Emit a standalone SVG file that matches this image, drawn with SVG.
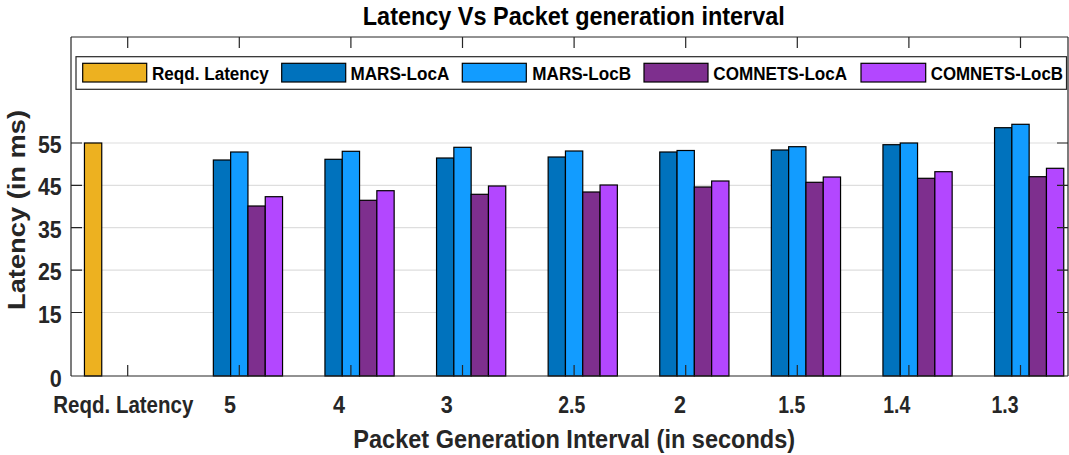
<svg xmlns="http://www.w3.org/2000/svg" width="1069" height="455" viewBox="0 0 1069 455">
<style>
text{font-family:"Liberation Sans",Arial,sans-serif;font-weight:bold;fill:#262626}
.grid{stroke:#dedede;stroke-width:1.2}
.ax{stroke:#262626;stroke-width:1.2;fill:none}
.bar{stroke:#000;stroke-width:1.2}
.rq{fill:#EDB120}.ma{fill:#0072BD}.mb{fill:#129CFF}.ca{fill:#7E2F8E}.cb{fill:#B347FF}
.yt{font-size:23px;text-anchor:end}
.xt{font-size:24px;text-anchor:middle}
.lg{font-size:19px;fill:#000}
</style>
<rect width="1069" height="455" fill="#fff"/>
<g id="grid">
<line class="grid" x1="71" y1="143" x2="1068" y2="143"/>
<line class="grid" x1="71" y1="185.4" x2="1068" y2="185.4"/>
<line class="grid" x1="71" y1="227.7" x2="1068" y2="227.7"/>
<line class="grid" x1="71" y1="270.1" x2="1068" y2="270.1"/>
<line class="grid" x1="71" y1="312.5" x2="1068" y2="312.5"/>
</g>
<g id="bars">
<rect class="bar rq" x="84.45" y="143" width="17.3" height="233"/>
<g id="g5">
<rect class="bar ma" x="213.35" y="160" width="17.3" height="216"/>
<rect class="bar mb" x="230.65" y="152" width="17.3" height="224"/>
<rect class="bar ca" x="247.95" y="206" width="17.3" height="170"/>
<rect class="bar cb" x="265.25" y="196.7" width="17.3" height="179.3"/>
</g>
<g id="g4">
<rect class="bar ma" x="324.95" y="159.3" width="17.3" height="216.7"/>
<rect class="bar mb" x="342.25" y="151.3" width="17.3" height="224.7"/>
<rect class="bar ca" x="359.55" y="200.3" width="17.3" height="175.7"/>
<rect class="bar cb" x="376.85" y="190.7" width="17.3" height="185.3"/>
</g>
<g id="g3">
<rect class="bar ma" x="436.55" y="158" width="17.3" height="218"/>
<rect class="bar mb" x="453.85" y="147.3" width="17.3" height="228.7"/>
<rect class="bar ca" x="471.15" y="194.3" width="17.3" height="181.7"/>
<rect class="bar cb" x="488.45" y="186" width="17.3" height="190"/>
</g>
<g id="g25">
<rect class="bar ma" x="548.15" y="157" width="17.3" height="219"/>
<rect class="bar mb" x="565.45" y="151" width="17.3" height="225"/>
<rect class="bar ca" x="582.75" y="192" width="17.3" height="184"/>
<rect class="bar cb" x="600.05" y="185" width="17.3" height="191"/>
</g>
<g id="g2">
<rect class="bar ma" x="659.75" y="152" width="17.3" height="224"/>
<rect class="bar mb" x="677.05" y="150.5" width="17.3" height="225.5"/>
<rect class="bar ca" x="694.35" y="187" width="17.3" height="189"/>
<rect class="bar cb" x="711.65" y="181" width="17.3" height="195"/>
</g>
<g id="g15">
<rect class="bar ma" x="771.35" y="150" width="17.3" height="226"/>
<rect class="bar mb" x="788.65" y="146.7" width="17.3" height="229.3"/>
<rect class="bar ca" x="805.95" y="182.3" width="17.3" height="193.7"/>
<rect class="bar cb" x="823.25" y="177" width="17.3" height="199"/>
</g>
<g id="g14">
<rect class="bar ma" x="882.95" y="144.7" width="17.3" height="231.3"/>
<rect class="bar mb" x="900.25" y="143" width="17.3" height="233"/>
<rect class="bar ca" x="917.55" y="178.3" width="17.3" height="197.7"/>
<rect class="bar cb" x="934.85" y="171.7" width="17.3" height="204.3"/>
</g>
<g id="g13">
<rect class="bar ma" x="994.55" y="127.7" width="17.3" height="248.3"/>
<rect class="bar mb" x="1011.85" y="124.3" width="17.3" height="251.7"/>
<rect class="bar ca" x="1029.15" y="176.7" width="17.3" height="199.3"/>
<rect class="bar cb" x="1046.45" y="168.3" width="17.3" height="207.7"/>
</g>
</g>
<g id="axes">
<path class="ax" d="M71,37 H1068 M71,37 V376 M1068,37 V376"/>
<path class="ax" stroke-width="1.6" d="M71,376 H1068"/>
<path class="ax" d="M127.7,37v11 M239.3,37v11 M350.9,37v11 M462.5,37v11 M574.1,37v11 M685.7,37v11 M797.3,37v11 M908.9,37v11 M1020.5,37v11"/>
<path class="ax" d="M127.7,376v-11 M239.3,376v-11 M350.9,376v-11 M462.5,376v-11 M574.1,376v-11 M685.7,376v-11 M797.3,376v-11 M908.9,376v-11 M1020.5,376v-11"/>
<path class="ax" d="M71,143h11 M71,185.4h11 M71,227.7h11 M71,270.1h11 M71,312.5h11 M1068,143h-11 M1068,185.4h-11 M1068,227.7h-11 M1068,270.1h-11 M1068,312.5h-11"/>
</g>
<g id="yticks">
<text class="yt" x="61.7" y="153" textLength="23.7" lengthAdjust="spacingAndGlyphs">55</text>
<text class="yt" x="61.7" y="195.4" textLength="23.7" lengthAdjust="spacingAndGlyphs">45</text>
<text class="yt" x="61.7" y="237.7" textLength="23.7" lengthAdjust="spacingAndGlyphs">35</text>
<text class="yt" x="61.7" y="280.1" textLength="23.7" lengthAdjust="spacingAndGlyphs">25</text>
<text class="yt" x="61.7" y="322.5" textLength="23.7" lengthAdjust="spacingAndGlyphs">15</text>
<text class="yt" x="61.7" y="386.5" textLength="12" lengthAdjust="spacingAndGlyphs">0</text>
</g>
<g id="xticks">
<text class="xt" x="123.3" y="413" textLength="140" lengthAdjust="spacingAndGlyphs">Reqd. Latency</text>
<text class="xt" x="230" y="413" textLength="12" lengthAdjust="spacingAndGlyphs">5</text>
<text class="xt" x="339" y="413" textLength="12" lengthAdjust="spacingAndGlyphs">4</text>
<text class="xt" x="446.7" y="413" textLength="12" lengthAdjust="spacingAndGlyphs">3</text>
<text class="xt" x="571.7" y="413" textLength="27" lengthAdjust="spacingAndGlyphs">2.5</text>
<text class="xt" x="680" y="413" textLength="12" lengthAdjust="spacingAndGlyphs">2</text>
<text class="xt" x="791.7" y="413" textLength="27" lengthAdjust="spacingAndGlyphs">1.5</text>
<text class="xt" x="896.7" y="413" textLength="27" lengthAdjust="spacingAndGlyphs">1.4</text>
<text class="xt" x="1005" y="413" textLength="27" lengthAdjust="spacingAndGlyphs">1.3</text>
</g>
<g id="title">
<text x="573.8" y="25" font-size="25" text-anchor="middle" style="fill:#000" textLength="422" lengthAdjust="spacingAndGlyphs">Latency Vs Packet generation interval</text>
</g>
<g id="xlabel">
<text x="574.2" y="448" font-size="25" text-anchor="middle" textLength="441.7" lengthAdjust="spacingAndGlyphs">Packet Generation Interval (in seconds)</text>
</g>
<g id="ylabel">
<text transform="translate(25,210) scale(0.9,1) rotate(-90)" x="0" y="0" font-size="27" text-anchor="middle" textLength="200" lengthAdjust="spacingAndGlyphs">Latency (in ms)</text>
</g>
<g id="legend">
<rect x="76" y="56.7" width="990.5" height="32.6" fill="#fff" stroke="#262626" stroke-width="1.2"/>
<rect class="bar rq" x="82.7" y="63.3" width="64" height="18.7"/>
<text class="lg" transform="translate(152,80.3) scale(0.9,1)">Reqd. Latency</text>
<rect class="bar ma" x="281.7" y="63.3" width="64" height="18.7"/>
<text class="lg" transform="translate(350.5,80.3) scale(0.9,1)">MARS-LocA</text>
<rect class="bar mb" x="462.3" y="63.3" width="64" height="18.7"/>
<text class="lg" transform="translate(532.3,80.3) scale(0.9,1)">MARS-LocB</text>
<rect class="bar ca" x="644" y="63.3" width="64" height="18.7"/>
<text class="lg" transform="translate(713.3,80.3) scale(0.9,1)">COMNETS-LocA</text>
<rect class="bar cb" x="861" y="63.3" width="64.7" height="18.7"/>
<text class="lg" transform="translate(930.7,80.3) scale(0.89,1)">COMNETS-LocB</text>
</g>
</svg>
